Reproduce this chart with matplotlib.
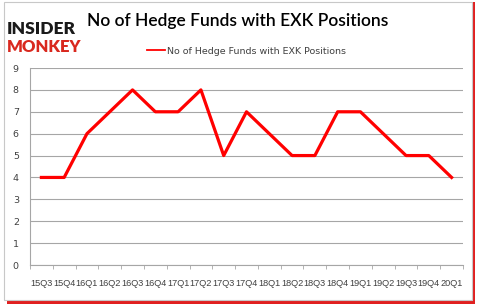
import numpy as np
import matplotlib.pyplot as plt
from matplotlib.patches import Rectangle

quarters = ["15Q3", "15Q4", "16Q1", "16Q2", "16Q3", "16Q4", "17Q1", "17Q2",
            "17Q3", "17Q4", "18Q1", "18Q2", "18Q3", "18Q4", "19Q1", "19Q2",
            "19Q3", "19Q4", "20Q1"]
funds = [4, 4, 6, 7, 8, 7, 7, 8, 5, 7, 6, 5, 5, 7, 7, 6, 5, 5, 4]
series_name = "No of Hedge Funds with EXK Positions"

fig = plt.figure(figsize=(4.79, 3.07), dpi=100)

# outer frame with red shadow
fig.patches.append(Rectangle((0.014, 0.010), 0.978, 0.985, transform=fig.transFigure,
                             facecolor="#e02020", edgecolor="none", zorder=-3))
fig.patches.append(Rectangle((0.008, 0.024), 0.978, 0.968, transform=fig.transFigure,
                             facecolor="white", edgecolor="#c8c8c8", lw=0.8, zorder=-2))

ax = fig.add_axes([0.0626, 0.1368, 0.9040, 0.6417])
ax.set_facecolor("none")
x = np.arange(len(quarters))
ax.plot(x, funds, color="red", lw=2.3, label=series_name, zorder=3)

ax.set_xlim(-0.5, len(quarters) - 0.5)
ax.set_ylim(0, 9)
ax.set_yticks(range(10))
ax.yaxis.grid(True, color="#a6a6a6", lw=0.8)
ax.set_axisbelow(True)
ax.set_xticks(x)
ax.set_xticklabels(quarters, fontsize=6.6, color="#404040", family="Liberation Sans")
ax.set_xticks(np.arange(-0.5, len(quarters)), minor=True)
ax.tick_params(axis="x", which="major", length=0, pad=10)
ax.tick_params(axis="x", which="minor", length=3, color="#a6a6a6", direction="out")
ax.tick_params(axis="y", length=0, labelsize=6.8, labelcolor="#404040", pad=8)
for s in ["top", "right"]:
    ax.spines[s].set_visible(False)
ax.spines["left"].set_color("#a6a6a6")
ax.spines["bottom"].set_color("#a6a6a6")

fig.text(0.497, 0.93, series_name, ha="center", va="center", fontsize=12.5,
         family="Lato", fontweight="semibold", color="black")
leg = ax.legend(loc="center", bbox_to_anchor=(0.5, 1.085), frameon=False, fontsize=6.8,
                handlelength=2.0, handletextpad=0.2, labelcolor="#404040")
leg.get_lines()[0].set_linewidth(1.3)

# logo
fig.text(0.014, 0.905, "INSIDER", fontsize=12.5, fontweight="heavy", color="#1a1a1a",
         family="Lato", va="center")
fig.text(0.014, 0.848, "MONKEY", fontsize=12, fontweight="heavy", color="#d9281e",
         family="Lato", va="center")

fig.savefig("out.png", dpi=100)
